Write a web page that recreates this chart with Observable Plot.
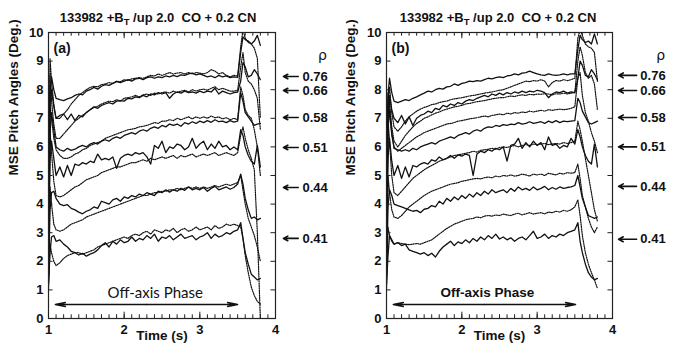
<!DOCTYPE html>
<html><head><meta charset="utf-8">
<script src="https://cdn.jsdelivr.net/npm/d3@7"></script>
<script src="https://cdn.jsdelivr.net/npm/@observablehq/plot@0.6"></script>
<style>
body{margin:0;background:#fff;}
#wrap{position:relative;width:679px;height:349px;overflow:hidden;background:#fff;}
.title{position:absolute;top:10px;font-family:"Liberation Sans",Arial,sans-serif;font-weight:bold;font-size:13px;white-space:pre;transform:translateX(-50%);line-height:15px;color:#111}
.title sub{font-size:9.5px;vertical-align:-3px;line-height:0}
.panel{position:absolute;top:26px;}
</style></head><body><div id="wrap"></div>
<script>
const T = [1.00,1.02,1.04,1.07,1.10,
1.15,1.20,1.25,1.30,1.35,1.40,1.45,1.50,
1.55,1.60,1.65,1.70,1.75,1.80,1.85,1.90,1.95,2.00,
2.05,2.10,2.15,2.20,2.25,2.30,2.35,2.40,2.45,2.50,
2.55,2.60,2.65,2.70,2.75,2.80,2.85,2.90,2.95,3.00,
3.05,3.10,3.15,3.20,3.25,3.30,3.35,3.40,3.45,3.50,
3.54,3.57,3.60,3.64,3.68,3.72,3.76,3.80];

// ---- panel (a) ----
const a76s = [3.5,7.8,8.45,8.0,7.7,
7.65,7.62,7.68,7.72,7.8,7.85,7.82,7.95,
8.0,8.08,8.02,8.12,8.18,8.15,8.22,8.28,8.25,8.3,
8.35,8.3,8.38,8.4,8.35,8.42,8.45,8.4,8.45,8.42,
8.48,8.45,8.5,8.46,8.52,8.5,8.55,8.58,8.52,8.55,
8.5,8.45,8.48,8.42,8.5,8.45,8.48,8.42,8.45,8.43,
9.3,9.85,9.75,9.7,9.6,9.7,9.9,9.55];
const a76d = [4.0,9.1,8.3,7.5,7.0,
7.0,7.15,7.3,7.5,7.65,7.8,7.9,8.0,
8.08,8.12,8.1,8.18,8.2,8.25,8.22,8.3,8.28,8.35,
8.32,8.38,8.4,8.42,8.4,8.45,8.5,8.48,8.55,8.5,
8.55,8.6,8.55,8.58,8.6,8.55,8.6,8.55,8.6,8.58,
8.55,8.6,8.7,8.65,8.55,8.6,8.5,8.45,8.5,8.48,
9.5,10.1,9.8,9.65,9.6,9.45,9.1,7.0];
const a66s = [3.0,7.5,8.0,7.4,7.0,
7.1,7.15,6.95,7.15,6.92,7.1,7.05,7.2,
7.3,7.4,7.35,7.45,7.5,7.55,7.5,7.6,7.62,7.6,
7.7,7.68,7.75,7.72,7.8,7.75,7.85,7.82,7.9,7.85,
7.9,7.7,7.85,7.92,7.88,7.95,7.9,7.92,7.88,7.95,
7.9,7.95,7.92,8.05,7.85,7.95,7.9,7.85,7.9,7.92,
8.3,8.95,8.8,8.45,8.5,8.7,8.55,8.35];
const a66d = [2.5,8.5,7.6,6.8,6.3,
6.3,6.45,6.6,6.75,6.9,7.0,7.1,7.2,
7.3,7.38,7.42,7.5,7.55,7.6,7.58,7.65,7.6,7.7,
7.72,7.75,7.8,7.75,7.82,7.85,7.8,7.88,7.85,7.9,
7.92,7.88,7.95,7.9,7.95,7.98,7.92,8.0,7.95,8.0,
8.02,7.98,8.05,8.1,8.0,8.05,8.0,7.95,7.95,7.98,
8.8,9.3,8.6,8.3,8.2,8.0,7.7,6.6];
const a58s = [2.5,6.5,7.2,6.6,6.0,
5.9,5.85,5.95,5.88,5.92,6.0,6.05,6.0,
6.1,6.15,6.1,6.2,6.25,6.2,6.3,6.35,6.3,6.4,
6.45,6.5,6.45,6.55,6.6,6.55,6.65,6.7,6.65,6.75,
6.7,6.8,6.75,6.8,6.72,6.85,6.8,6.88,6.82,6.9,
6.85,6.92,6.86,6.95,6.88,6.9,6.85,6.92,6.87,6.9,
7.9,7.6,7.2,7.05,6.9,6.75,6.8,6.82];
const a58d = [2.0,7.5,7.0,6.3,5.9,
5.7,5.6,5.6,5.65,5.75,5.8,5.9,5.95,
6.05,6.1,6.15,6.2,6.3,6.35,6.4,6.45,6.5,6.55,
6.6,6.62,6.65,6.7,6.72,6.75,6.8,6.85,6.82,6.9,
6.9,6.95,6.92,7.0,6.95,7.0,7.05,6.98,7.05,7.0,
7.05,7.0,7.08,7.02,7.05,6.98,7.02,6.95,7.0,6.95,
8.1,7.8,7.3,7.1,7.0,6.6,6.0,5.0];
const a51s = [2.0,5.5,6.2,5.6,5.0,
5.3,4.95,5.35,5.0,5.4,5.35,5.45,5.4,
5.5,5.45,5.75,5.55,5.6,5.55,5.65,5.25,5.6,5.7,
5.75,5.7,5.8,5.75,5.8,5.65,5.4,6.05,5.95,6.2,
5.8,6.0,5.95,6.1,6.05,5.9,6.0,6.3,5.95,6.1,
6.2,5.9,6.1,5.95,6.2,6.0,6.05,5.9,6.0,5.9,
6.6,6.4,6.0,5.7,5.5,5.4,6.05,5.3];
const a51d = [1.6,6.6,5.8,4.8,4.3,
4.25,4.3,4.4,4.5,4.6,4.65,4.75,4.85,
4.9,4.95,5.0,5.1,5.15,5.2,5.25,5.3,5.3,5.35,
5.4,5.45,5.45,5.5,5.55,5.5,5.6,5.55,5.6,5.65,
5.6,5.65,5.7,5.6,5.7,5.65,5.7,5.75,5.65,5.7,
5.75,5.7,5.75,5.8,5.7,5.75,5.8,5.75,5.7,5.8,
6.4,6.7,6.3,5.9,5.6,5.2,3.0,0.0];
const a44s = [1.5,3.8,4.4,4.45,4.2,
4.0,3.95,3.98,3.85,3.8,3.72,3.66,3.75,
3.8,3.9,3.85,4.1,4.05,4.0,4.15,4.2,4.1,4.25,
4.2,4.3,4.25,4.35,4.3,4.4,4.35,4.3,4.45,4.4,
4.5,4.42,4.5,4.45,4.55,4.48,4.6,4.5,4.55,4.5,
4.58,4.45,4.55,4.62,4.5,4.55,4.6,4.52,4.58,4.7,
5.05,4.7,4.2,3.8,3.5,3.55,3.45,3.5];
const a44d = [1.3,4.6,4.0,3.3,3.1,
3.05,3.1,3.2,3.3,3.35,3.4,3.45,3.55,
3.6,3.65,3.7,3.75,3.8,3.85,3.9,3.95,4.0,4.05,
4.1,4.15,4.2,4.25,4.3,4.3,4.35,4.4,4.4,4.45,
4.45,4.5,4.5,4.55,4.5,4.55,4.6,4.55,4.6,4.55,
4.6,4.55,4.6,4.65,4.6,4.65,4.7,4.65,4.7,4.75,
5.0,4.5,4.0,3.5,3.2,2.9,2.5,2.0];
const a41s = [1.2,2.3,2.85,2.9,2.7,
2.75,2.6,2.5,2.35,2.3,2.22,2.28,2.18,
2.25,2.3,2.4,2.55,2.65,2.5,2.7,2.6,2.75,2.65,
2.7,2.85,2.7,2.8,2.75,2.9,2.8,2.95,2.7,2.85,
2.8,2.9,2.75,2.85,2.95,2.8,2.85,2.9,2.75,2.85,
2.9,3.0,2.8,2.95,2.85,2.9,3.0,2.95,3.05,3.1,
3.35,2.8,2.3,1.9,1.55,1.45,1.35,1.4];
const a41d = [1.0,2.6,2.3,2.0,1.85,
1.95,2.1,2.2,2.25,2.3,2.3,2.25,2.3,
2.35,2.4,2.5,2.55,2.6,2.65,2.7,2.75,2.8,2.85,
2.8,2.9,2.95,2.9,3.0,3.05,2.95,3.1,3.05,3.0,
3.1,3.05,3.15,3.0,3.1,3.15,3.05,3.1,3.2,3.1,
3.15,3.2,3.1,3.25,3.15,3.2,3.3,3.25,3.3,3.25,
3.2,2.8,2.2,1.6,1.1,0.8,0.6,0.5];

// ---- panel (b) ----
const b76s = [3.5,7.8,8.4,7.9,7.6,
7.55,7.6,7.65,7.62,7.7,7.75,7.82,7.88,
7.95,7.92,8.0,8.05,8.02,8.1,8.12,8.2,8.15,8.22,
8.25,8.3,8.28,8.32,8.3,8.35,8.4,8.38,8.42,8.45,
8.42,8.48,8.5,8.55,8.52,8.58,8.6,8.65,8.6,8.55,
8.52,8.5,8.55,8.52,8.5,8.52,8.55,8.52,8.55,8.55,
9.4,9.9,9.75,9.65,9.7,9.6,9.95,9.6];
const b76d = [3.0,7.6,8.1,7.2,6.7,
6.55,6.7,6.9,7.05,7.15,7.25,7.32,7.38,
7.42,7.48,7.5,7.55,7.58,7.6,7.65,7.68,7.7,7.72,
7.75,7.78,7.8,7.82,7.85,7.88,7.9,7.92,7.95,7.98,
8.0,8.05,8.1,8.15,8.2,8.25,8.3,8.28,8.32,8.3,
8.35,8.3,8.1,8.25,8.32,8.3,8.35,8.32,8.35,8.4,
9.8,10.1,9.9,9.6,9.5,9.45,9.3,8.3];
const b66s = [2.8,7.2,7.8,7.3,7.0,
6.85,7.1,6.8,7.05,6.75,7.0,7.1,7.15,
7.25,7.2,7.35,7.3,7.45,7.4,7.5,7.45,7.55,7.5,
7.6,7.65,7.62,7.7,7.75,7.8,7.75,7.85,7.8,7.88,
7.82,7.9,7.85,7.92,7.88,7.95,7.9,7.95,7.92,7.98,
7.95,7.9,7.72,7.85,7.92,7.9,7.95,7.88,7.92,7.9,
8.4,9.0,8.85,8.5,8.45,8.7,8.55,8.35];
const b66d = [2.5,7.0,7.6,6.7,6.2,
6.0,6.2,6.4,6.55,6.7,6.82,6.9,7.0,
7.05,7.12,7.18,7.22,7.28,7.32,7.36,7.4,7.42,7.45,
7.5,7.52,7.55,7.58,7.6,7.62,7.65,7.68,7.7,7.72,
7.72,7.75,7.78,7.76,7.8,7.82,7.8,7.84,7.82,7.85,
7.84,7.86,7.85,7.82,7.86,7.85,7.88,7.85,7.88,7.9,
9.0,9.5,9.2,8.6,8.4,8.5,8.2,7.3];
const b58s = [2.5,6.6,7.3,6.5,5.95,
5.9,5.85,5.9,5.85,5.95,5.9,6.0,6.05,
6.1,6.15,6.1,6.2,6.25,6.3,6.35,6.3,6.4,6.45,
6.5,6.45,6.55,6.6,6.55,6.65,6.7,6.68,6.75,6.72,
6.78,6.75,6.8,6.78,6.85,6.8,6.82,6.88,6.82,6.85,
6.88,6.82,6.9,6.85,6.92,6.85,6.9,6.88,6.9,6.92,
7.7,7.55,7.25,7.05,6.85,6.8,6.85,6.9];
const b58d = [2.2,7.9,7.2,6.4,6.0,
5.85,5.95,6.05,6.15,6.25,6.35,6.42,6.5,
6.55,6.6,6.65,6.7,6.75,6.8,6.82,6.85,6.9,6.92,
6.95,6.98,7.0,7.02,7.05,7.08,7.05,7.1,7.12,7.15,
7.12,7.18,7.15,7.2,7.18,7.22,7.2,7.25,7.22,7.25,
7.28,7.25,7.3,7.28,7.3,7.32,7.3,7.32,7.35,7.4,
8.4,8.6,7.8,7.2,6.9,6.5,6.2,5.8];
const b51s = [1.8,5.6,6.3,5.5,5.0,
5.35,4.9,5.3,4.95,5.35,5.3,5.4,5.45,
5.4,5.55,5.5,5.65,5.55,5.6,5.7,5.6,5.72,5.68,
5.75,5.7,5.0,5.75,5.85,5.8,5.9,5.85,5.95,5.9,
6.0,5.5,6.05,6.1,6.3,5.95,6.15,6.0,6.2,6.05,
6.15,5.9,6.35,6.05,6.1,5.95,6.05,6.0,6.3,6.1,
6.6,6.35,6.0,5.7,5.5,5.4,6.1,5.3];
const b51d = [1.6,7.0,6.2,5.0,4.4,
4.3,4.45,4.6,4.75,4.9,5.0,5.1,5.2,
5.28,5.35,5.42,5.5,5.55,5.6,5.65,5.7,5.72,5.75,
5.78,5.8,5.85,5.82,5.88,5.9,5.92,5.95,5.92,5.98,
6.0,5.98,6.02,6.05,6.0,6.05,6.08,6.05,6.1,6.08,
6.1,6.12,6.08,6.1,6.12,6.1,6.15,6.12,6.15,6.2,
6.9,6.6,6.2,5.6,5.0,4.4,3.8,3.4];
const b44s = [1.5,3.9,4.5,4.3,4.0,
3.95,3.9,3.85,3.8,3.75,3.78,3.7,3.82,
3.85,3.95,3.9,4.1,4.0,4.2,4.1,4.25,4.15,4.3,
4.2,4.35,4.25,4.4,4.3,4.45,4.35,4.5,4.4,4.45,
4.5,4.4,4.55,4.45,4.6,4.5,4.55,4.48,4.6,4.5,
4.55,4.62,4.5,4.58,4.52,4.6,4.55,4.58,4.6,4.65,
5.0,4.6,4.2,3.9,3.6,3.55,3.5,3.55];
const b44d = [1.4,5.0,4.4,3.8,3.55,
3.5,3.6,3.75,3.9,4.0,4.1,4.2,4.3,
4.38,4.45,4.5,4.55,4.6,4.65,4.7,4.72,4.75,4.8,
4.82,4.85,4.88,4.9,4.88,4.92,4.95,4.92,4.98,4.95,
5.0,4.98,5.02,4.98,5.0,5.05,5.02,4.98,5.05,5.02,
5.05,5.0,5.08,5.05,5.02,5.08,5.05,5.1,5.08,5.1,
5.4,4.9,4.3,3.9,3.5,3.2,3.0,3.2];
const b41s = [1.2,2.2,2.9,2.75,2.6,
2.65,2.55,2.6,2.4,2.35,2.3,2.25,2.3,
2.2,2.28,2.15,2.35,2.5,2.6,2.7,2.55,2.68,2.62,
2.75,2.65,2.8,2.7,2.85,2.75,2.9,2.8,2.95,2.78,
2.85,2.75,2.82,2.7,2.8,2.85,2.75,2.9,3.05,2.8,
2.85,2.95,2.8,2.9,2.85,2.95,2.9,3.0,3.05,3.1,
3.35,2.7,2.3,1.9,1.6,1.45,1.35,1.4];
const b41d = [1.0,3.2,2.9,2.7,2.6,
2.65,2.62,2.6,2.58,2.6,2.62,2.6,2.65,
2.7,2.75,2.85,2.95,3.05,3.15,3.22,3.3,3.35,3.4,
3.45,3.48,3.5,3.55,3.52,3.58,3.6,3.58,3.62,3.6,
3.65,3.62,3.6,3.65,3.68,3.62,3.66,3.7,3.65,3.68,
3.7,3.66,3.72,3.7,3.75,3.72,3.78,3.75,3.8,3.9,
4.15,3.6,2.9,2.3,1.9,1.6,1.35,1.05];

// ---- labels / annotations ----
const rhoLabels = ["0.76","0.66","0.58","0.51","0.44","0.41"];
const arrowLevelsA = [8.46,7.97,7.03,5.98,4.58,2.8];
const arrowLevelsB = [8.5,7.97,7.03,6.0,4.62,2.77];
const phaseSpanA = [1.09,3.50];
const phaseSpanB = [1.09,3.51];
const xTickLabels = [1,2,3,4];
const yTickLabels = [0,1,2,3,4,5,6,7,8,9,10];
const minorX = d3.range(11,40).map(d=>d/10);

const seriesA = [["0.76",a76s,a76d],["0.66",a66s,a66d],["0.58",a58s,a58d],["0.51",a51s,a51d],["0.44",a44s,a44d],["0.41",a41s,a41d]];
const seriesB = [["0.76",b76s,b76d],["0.66",b66s,b66d],["0.58",b58s,b58d],["0.51",b51s,b51d],["0.44",b44s,b44d],["0.41",b41s,b41d]];
for (const s of [...seriesA, ...seriesB]) {
  if (s[1].length !== T.length || s[2].length !== T.length) throw new Error("length mismatch " + s[0] + " " + s[1].length + " " + s[2].length);
}

const SANS = '"Liberation Sans",Arial,sans-serif';

function makePanel(cfg) {
  const solid = [], dotted = [];
  cfg.series.forEach(([k, s, d]) => {
    s.forEach((v, i) => solid.push({t: T[i], v, k}));
    d.forEach((v, i) => dotted.push({t: T[i], v, k}));
  });
  const lab = cfg.levels.map((y, i) => ({y, text: rhoLabels[i]}));
  const mid = (cfg.span[0] + cfg.span[1]) / 2;
  return Plot.plot({
    width: cfg.width, height: 323,
    marginLeft: cfg.ml, marginRight: cfg.mr, marginTop: 6, marginBottom: 31,
    x: {domain: [1, 4], ticks: xTickLabels, tickFormat: d3.format("d"), tickSize: 0, tickPadding: 6, label: null},
    y: {domain: [0, 10], ticks: yTickLabels, tickFormat: d3.format("d"), tickSize: 0, tickPadding: 5, label: null},
    style: {fontFamily: SANS, fontWeight: "bold", fontSize: "13px", color: "#111", background: "white", overflow: "visible"},
    marks: [
      Plot.line(dotted, {x: "t", y: "v", z: "k", stroke: "#111", strokeWidth: 1.2, strokeDasharray: "1.2,1.2", clip: true}),
      Plot.line(solid, {x: "t", y: "v", z: "k", stroke: "#111", strokeWidth: 1.3, clip: true}),
      Plot.frame({stroke: "#222", strokeWidth: 1.2}),
      Plot.ruleX(minorX, {x: d => d, y1: 0, y2: 0.13, stroke: "#222"}),
      Plot.ruleX(minorX, {x: d => d, y1: 10, y2: 9.87, stroke: "#222"}),
      Plot.ruleX(xTickLabels, {x: d => d, y1: 0, y2: 0.22, stroke: "#222"}),
      Plot.ruleX(xTickLabels, {x: d => d, y1: 10, y2: 9.78, stroke: "#222"}),
      Plot.ruleY(yTickLabels, {y: d => d, x1: 1, x2: 1.06, stroke: "#222"}),
      Plot.ruleY(yTickLabels, {y: d => d, x1: 4, x2: 3.94, stroke: "#222"}),
      Plot.text([cfg.letter], {text: d => d, frameAnchor: "top-left", dx: 5, dy: 11, textAnchor: "start", lineAnchor: "top", fontSize: 14, fontWeight: "bold"}),
      Plot.text(["Time (s)"], {text: d => d, frameAnchor: "bottom", dy: 21, fontSize: 13.5}),
      Plot.text(["MSE Pitch Angles (Deg.)"], {text: d => d, frameAnchor: "left", dx: cfg.ylabDx, rotate: -90, fontSize: 13.5}),
      Plot.text(["Off-axis Phase"], {text: d => d, x: cfg.phaseX, y: 0.9, fontSize: cfg.phaseSize, fontWeight: cfg.phaseWeight, fontFamily: cfg.phaseFont}),
      Plot.arrow([cfg.span[0], cfg.span[1]], {x1: mid, x2: d => d, y1: 0.49, y2: 0.49, headLength: 11, headAngle: 22, strokeWidth: 1.4, stroke: "#111"}),
      Plot.arrow(lab, {x1: cfg.arrX[1], x2: cfg.arrX[0], y1: "y", y2: "y", headLength: 5, headAngle: 55, strokeWidth: 1.6, stroke: "#111", clip: false}),
      Plot.text(lab, {x: cfg.txtX, y: "y", text: "text", textAnchor: "start", fontSize: 13, fontWeight: "bold"}),
      Plot.text(["ρ"], {text: d => d, x: cfg.rhoX, y: 9.2, fontSize: 14, fontWeight: "normal", fontFamily: "DejaVu Sans, sans-serif"})
    ]
  });
}

const wrap = document.getElementById("wrap");
function addTitle(cx) {
  const t = document.createElement("div");
  t.className = "title";
  t.style.left = cx + "px";
  t.innerHTML = "133982 +B<sub>T</sub> /up 2.0  CO + 0.2 CN";
  wrap.appendChild(t);
}
addTitle(158);
addTitle(498);

const pa = makePanel({series: seriesA, letter: "(a)", width: 340, ml: 48, mr: 65, levels: arrowLevelsA, span: phaseSpanA,
  arrX: [4.105, 4.30], txtX: 4.357, rhoX: 4.62, ylabDx: -35, phaseX: 2.41, phaseSize: 15, phaseWeight: "normal", phaseFont: "Lato, 'Open Sans', sans-serif"});
const pb = makePanel({series: seriesB, letter: "(b)", width: 339, ml: 46, mr: 67, levels: arrowLevelsB, span: phaseSpanB,
  arrX: [4.08, 4.32], txtX: 4.37, rhoX: 4.64, ylabDx: -36, phaseX: 2.34, phaseSize: 13.5, phaseWeight: "bold", phaseFont: SANS});
const da = document.createElement("div"); da.className = "panel"; da.style.left = "0px"; da.appendChild(pa); wrap.appendChild(da);
const db = document.createElement("div"); db.className = "panel"; db.style.left = "340px"; db.appendChild(pb); wrap.appendChild(db);
</script></body></html>
